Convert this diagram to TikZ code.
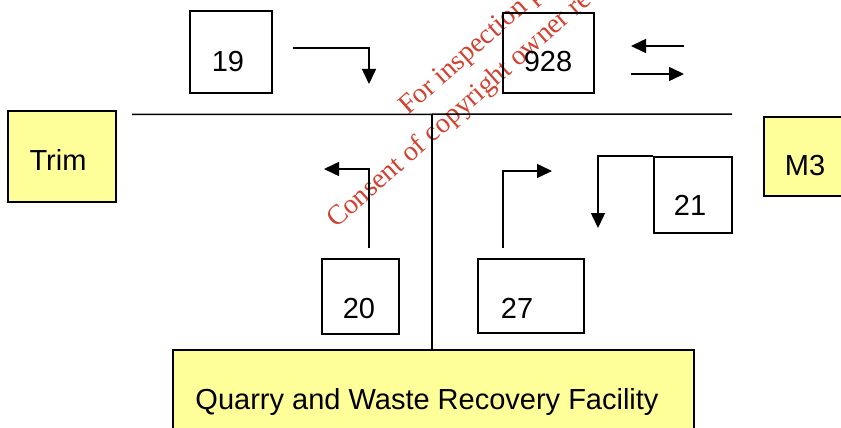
\documentclass[tikz,border=0pt]{standalone}
\usepackage{fontspec}
\setmainfont{Liberation Sans}
\newfontfamily\wmfont{Liberation Serif}
\usetikzlibrary{arrows.meta}
\definecolor{yfill}{HTML}{FFFF99}
\definecolor{wmred}{RGB}{210,66,48}
\begin{document}
\begin{tikzpicture}[x=1pt,y=-1pt,
  numbox/.style={draw, line width=1.6pt, inner sep=0pt},
  ybox/.style={numbox, fill=yfill},
  lbl/.style={inner sep=0pt, anchor=base, font=\fontsize{29}{34}\selectfont},
  road/.style={line width=1.5pt},
  flow/.style={line width=1.5pt, -{Triangle[length=15pt,width=14pt]}},
  wm/.style={inner sep=0pt, anchor=base west, text=wmred, rotate=41.5,
    font=\wmfont\fontsize{28}{30}\selectfont}]
\useasboundingbox (0,0) rectangle (841,428);
\clip (0,0) rectangle (841,428);
\fill[white] (0,0) rectangle (841,428);

% watermark
\node[wm] (wm1) at (408,116) {For inspection p};
\node[wm] (wm2) at (336,229) {Consent of copyright owner re};

% boxes
\node[numbox, minimum width=82pt, minimum height=82pt] (b19) at (231,52) {};
\node[numbox, minimum width=91pt, minimum height=80pt] (b928) at (548.5,53) {};
\node[numbox, minimum width=77pt, minimum height=75pt] (b20) at (360.5,296.5) {};
\node[numbox, minimum width=106pt, minimum height=74pt] (b27) at (531,296) {};
\node[numbox, minimum width=78pt, minimum height=76pt] (b21) at (693,195) {};
\node[ybox, minimum width=108pt, minimum height=91pt] (trim) at (62,156.5) {};
\node[ybox, minimum width=106pt, minimum height=79pt] (m3) at (817,156.5) {};
\node[ybox, minimum width=521pt, minimum height=100pt] (qw) at (433.5,400) {};

% labels
\node[lbl] (t19) at (228,71) {19};
\node[lbl] (t928) at (548,72) {928};
\node[lbl] (t20) at (359,318) {20};
\node[lbl] (t27) at (517,318) {27};
\node[lbl] (t21) at (690,215) {21};
\node[lbl] (ttrim) at (58,170) {Trim};
\node[lbl] (tm3) at (805,175) {M3};
\node[lbl] (tqw) at (427,409) {Quarry and Waste Recovery Facility};

% roads
\coordinate (rl) at (132,114.5);
\coordinate (rr) at (732,114);
\coordinate (j) at (432,114);
\draw[road] (rl) -- (rr);
\draw[road] (j) -- (j |- qw.north);

% flow arrows
\coordinate (s19) at (293,48);
\coordinate (e19) at (369,84);
\draw[flow] (s19) -| (e19);

\coordinate (sa) at (684,46);
\coordinate (ea) at (631,46);
\draw[flow] (sa) -- (ea);
\coordinate (sb) at (631,74);
\coordinate (eb) at (684,74);
\draw[flow] (sb) -- (eb);

\coordinate (s20) at (369,248);
\coordinate (e20) at (324,169);
\draw[flow] (s20) |- (e20);

\coordinate (s27) at (503,248);
\coordinate (e27) at (552,171);
\draw[flow] (s27) |- (e27);

\coordinate (e21) at (598,228);
\draw[flow] (b21.north west) -| (e21);
\end{tikzpicture}
\end{document}
